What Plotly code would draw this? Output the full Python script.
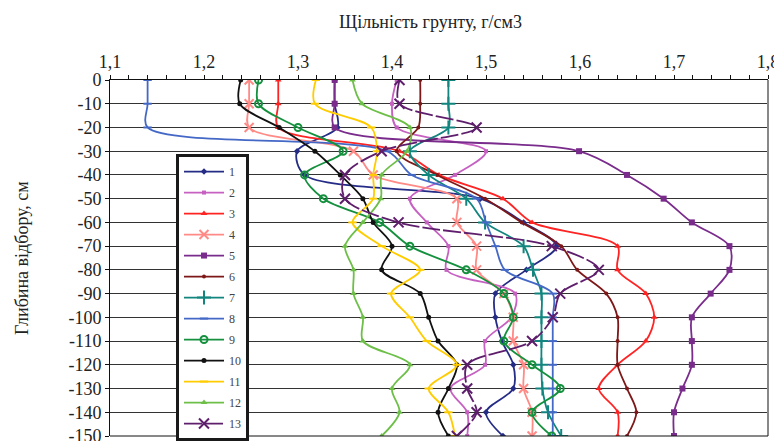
import plotly.graph_objects as go

depths = [0, -10, -20, -30, -40, -50, -60, -70, -80, -90, -100, -110, -120, -130, -140, -150]
depth_ticks = [0, -10, -20, -30, -40, -50, -60, -70, -80, -90, -100, -110, -120, -130, -140, -150]
depth_labels = ["0", "-10", "-20", "-30", "-40", "-50", "-60", "-70", "-80", "-90", "-100", "-110", "-120", "-130", "-140", "-150"]
density_ticks = [1.1, 1.2, 1.3, 1.4, 1.5, 1.6, 1.7, 1.8]

s1 = [1.339, 1.339, 1.342, 1.299, 1.307, 1.494, 1.540, 1.575, 1.543, 1.510, 1.510, 1.517, 1.529, 1.529, 1.500, 1.518]
s2 = [1.405, 1.400, 1.405, 1.500, 1.467, 1.419, 1.437, 1.460, 1.458, 1.531, 1.527, 1.499, 1.499, 1.462, 1.480, 1.480]
s3 = [1.279, 1.279, 1.279, 1.408, 1.450, 1.518, 1.549, 1.640, 1.640, 1.670, 1.679, 1.670, 1.640, 1.620, 1.640, 1.640]
s4 = [1.248, 1.248, 1.248, 1.359, 1.380, 1.469, 1.469, 1.490, 1.490, 1.519, 1.529, 1.529, 1.540, 1.540, 1.549, 1.549]
s5 = [1.339, 1.339, 1.339, 1.599, 1.650, 1.689, 1.719, 1.759, 1.759, 1.739, 1.719, 1.719, 1.719, 1.709, 1.700, 1.700]
s6 = [1.430, 1.430, 1.428, 1.405, 1.448, 1.499, 1.538, 1.580, 1.597, 1.628, 1.640, 1.640, 1.640, 1.650, 1.660, 1.650]
s7 = [1.460, 1.460, 1.460, 1.419, 1.439, 1.479, 1.499, 1.540, 1.550, 1.559, 1.559, 1.559, 1.559, 1.560, 1.566, 1.580]
s8 = [1.140, 1.140, 1.140, 1.395, 1.421, 1.490, 1.500, 1.510, 1.520, 1.571, 1.571, 1.571, 1.571, 1.571, 1.571, 1.571]
s9 = [1.258, 1.258, 1.300, 1.348, 1.307, 1.327, 1.387, 1.419, 1.479, 1.519, 1.529, 1.519, 1.549, 1.579, 1.549, 1.570]
s10 = [1.239, 1.238, 1.280, 1.318, 1.345, 1.369, 1.380, 1.400, 1.389, 1.430, 1.439, 1.449, 1.469, 1.460, 1.449, 1.460]
s11 = [1.319, 1.318, 1.378, 1.384, 1.380, 1.380, 1.358, 1.389, 1.430, 1.399, 1.419, 1.437, 1.469, 1.439, 1.460, 1.467]
s12 = [1.358, 1.368, 1.419, 1.416, 1.389, 1.388, 1.369, 1.350, 1.359, 1.359, 1.369, 1.369, 1.419, 1.400, 1.408, 1.389]
s13 = [1.408, 1.408, 1.490, 1.389, 1.350, 1.350, 1.407, 1.570, 1.620, 1.579, 1.571, 1.549, 1.480, 1.480, 1.490, 1.469]

series_names = ["1", "2", "3", "4", "5", "6", "7", "8", "9", "10", "11", "12", "13"]
series_values = [s1, s2, s3, s4, s5, s6, s7, s8, s9, s10, s11, s12, s13]

colors = ["#252C86", "#C661C2", "#FF2424", "#FF8A86", "#7A2C8C", "#7E1818",
          "#12857F", "#4468C6", "#15903E", "#111111", "#FFCC00", "#6DBF48", "#5E1E6C"]
symbols = ["diamond", "square", "triangle-up", "x-thin-open", "square", "circle",
           "cross-thin-open", "line-ew-open", "circle-open", "circle", "line-ew-open",
           "triangle-up", "x-thin-open"]
msizes = [5, 4, 6, 9, 6, 4, 10, 6, 7, 5, 6, 6, 10]

fig = go.Figure()
for i, (name, vals) in enumerate(zip(series_names, series_values)):
    sym = symbols[i]
    marker = dict(symbol=sym, size=msizes[i], color=colors[i],
                  line=dict(color=colors[i], width=2 if "open" in sym else 0))
    fig.add_trace(go.Scatter(
        x=vals, y=depths, name=name, mode="lines+markers",
        legendgroup="g" + name,
        line=dict(color=colors[i], width=1.8, shape="spline", smoothing=0.9,
                  dash="18px,3px" if name == "13" else "solid"),
        marker=marker,
    ))

serif = "Liberation Serif, Times New Roman, serif"
# page body has an 8px margin, so the figure is sized/offset to compensate
fig.update_layout(
    width=774, height=433,
    margin=dict(l=102, r=14, t=72, b=5, autoexpand=False),
    paper_bgcolor="white", plot_bgcolor="white",
    separators=", ",
    font=dict(family=serif, size=18, color="#222"),
    showlegend=True,
    legend=dict(x=0.1003, y=0.792, xanchor="left", yanchor="top",
                bgcolor="white", bordercolor="#1a1a1a", borderwidth=3,
                font=dict(family=serif, size=12, color="#444"),
                tracegroupgap=2.0, itemwidth=40),
    xaxis=dict(side="top", range=[1.1, 1.8], tickvals=density_ticks, tickformat=".1f",
               showgrid=False, zeroline=False, showline=True, linecolor="#111", linewidth=1,
               ticks="outside", ticklen=4, tickcolor="#111", automargin=False,
               ticklabeloverflow="allow",
               minor=dict(dtick=0.02, ticks="outside", ticklen=4, tickcolor="#111", showgrid=False),
               tickfont=dict(size=18, family=serif, color="#222")),
    yaxis=dict(range=[-150, 0], tickvals=depth_ticks, ticktext=depth_labels,
               showgrid=True, gridcolor="#333", gridwidth=1, zeroline=False,
               showline=True, linecolor="#111", linewidth=1, automargin=False,
               ticklabeloverflow="allow",
               ticks="outside", ticklen=4, tickcolor="#111",
               tickfont=dict(size=18, family=serif, color="#222")),
    annotations=[
        dict(text="Щільність грунту, г/см3", x=0.487, y=1.0, xref="paper", yref="paper",
             yshift=58, showarrow=False, xanchor="center", yanchor="middle",
             font=dict(family=serif, size=18, color="#222")),
        dict(text="Глибина відбору, см", x=0, y=0.5, xref="paper", yref="paper",
             xshift=-88, showarrow=False, textangle=-90, xanchor="center", yanchor="middle",
             font=dict(family=serif, size=18, color="#222")),
    ],
    shapes=[
        dict(type="line", xref="paper", yref="paper", x0=1, x1=1, y0=0, y1=1,
             line=dict(color="#888", width=2)),
        dict(type="line", xref="paper", yref="paper", x0=0, x1=1, y0=0, y1=0,
             line=dict(color="#111", width=1)),
    ],
)

fig.write_html("out.html")
